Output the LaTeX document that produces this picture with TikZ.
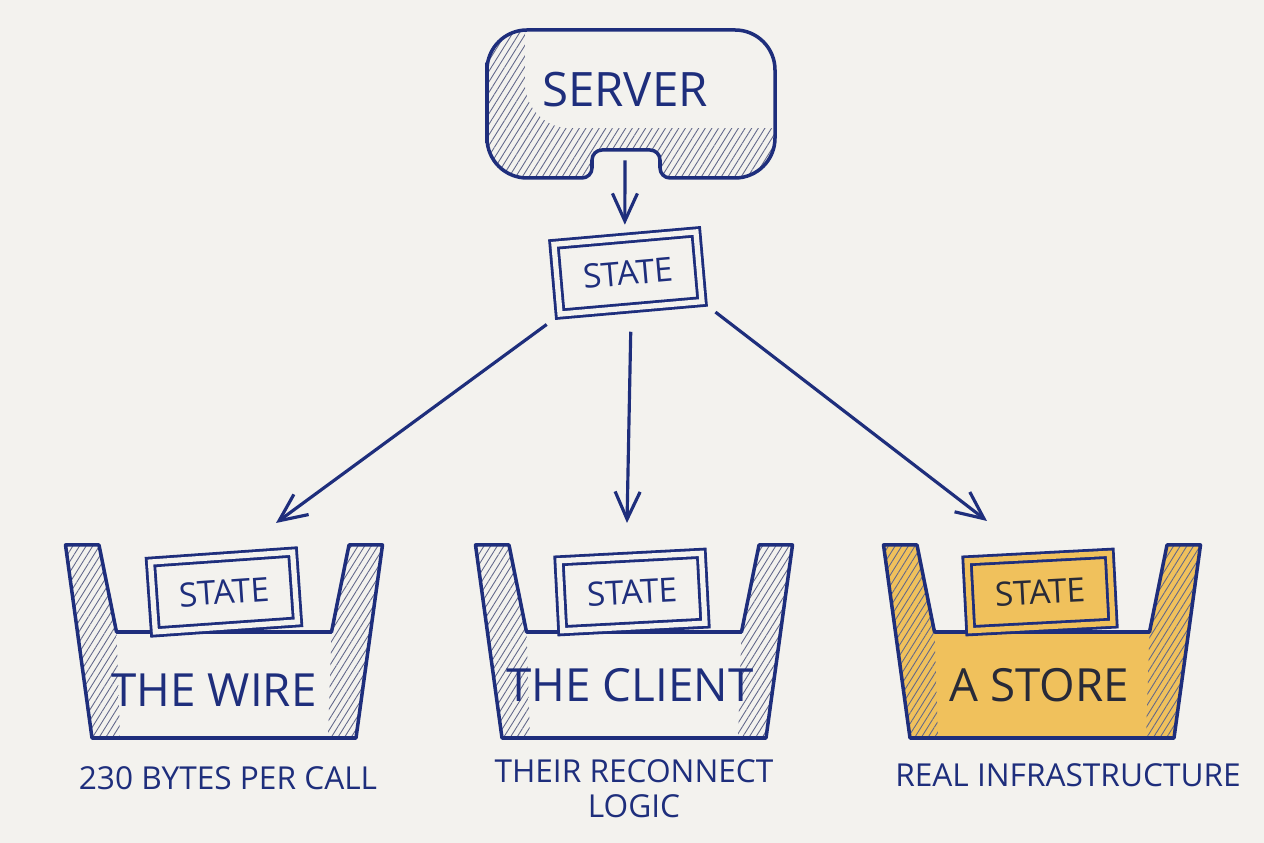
\documentclass[tikz,border=0pt]{standalone}
\usepackage{fontspec}
\setmainfont{Open Sans}
\usepackage{xcolor}
\usepackage{tikz}
\usetikzlibrary{arrows.meta,patterns.meta}
\definecolor{bleu}{RGB}{30,46,124}
\definecolor{fond}{RGB}{243,242,238}
\definecolor{jaune}{RGB}{240,193,92}
\definecolor{grish}{RGB}{98,104,138}
\definecolor{noir}{RGB}{40,42,56}
\newcommand{\serveur}{(9.74,14.8) [rounded corners=0.8cm] -- (9.74,16.26) -- (15.5,16.26) -- (15.5,13.3)
  [rounded corners=0.2cm] -- (13.2,13.3) -- (13.2,13.86) -- (11.84,13.86) -- (11.84,13.3)
  [rounded corners=0.8cm] -- (9.74,13.3) -- cycle}
\newcommand{\bac}[2]{%
  \fill[#2] ({#1-3.17},5.96) -- ({#1-2.64},2.1) -- ({#1+2.64},2.1) -- ({#1+3.17},5.96) -- ({#1+2.5},5.96)
    -- ({#1+2.15},4.22) -- ({#1-2.15},4.22) -- ({#1-2.5},5.96) -- cycle;
  \fill[mur] ({#1-3.17},5.96) -- ({#1-2.5},5.96) -- ({#1-2.15},4.22) -- ({#1-2.08},2.1) -- ({#1-2.64},2.1) -- cycle;
  \fill[mur] ({#1+3.17},5.96) -- ({#1+2.5},5.96) -- ({#1+2.15},4.22) -- ({#1+2.08},2.1) -- ({#1+2.64},2.1) -- cycle;
  \draw[trait] ({#1-3.17},5.96) -- ({#1-2.64},2.1) -- ({#1+2.64},2.1) -- ({#1+3.17},5.96) -- ({#1+2.5},5.96)
    -- ({#1+2.15},4.22) -- ({#1-2.15},4.22) -- ({#1-2.5},5.96) -- cycle;}

\begin{document}
\begin{tikzpicture}[x=1cm, y=1cm,
  st/.style={rectangle, draw=bleu, line width=1.6pt, double=#1, double distance=3pt, fill=#1,
             minimum width=2.85cm, minimum height=1.4cm, text=bleu, font=\fontsize{19}{19}\selectfont},
  st/.default=fond,
  fl/.style={-{Straight Barb[length=5.5mm, width=5mm]}, line width=1.8pt, draw=bleu},
  trait/.style={draw=bleu, line width=2pt, line join=round},
  mur/.style={pattern={Lines[angle=58, distance=3.2pt, line width=0.5pt]}, pattern color=grish},
  gros/.style={font=\fontsize{26}{26}\selectfont},
  lb/.style={text=bleu, align=center, font=\fontsize{18}{20}\selectfont}]

\fill[fond] (0,0) rectangle (25.28,16.86);
\useasboundingbox (0,0) rectangle (25.28,16.86);

% ── haut : le serveur ──
\begin{scope}
  \clip \serveur;
  \fill[mur] (9,13) rectangle (16,17);
  \fill[fond, rounded corners=0.9cm] (10.5,14.3) rectangle (16.5,17);
\end{scope}
\draw[trait] \serveur;
\node[text=bleu, font=\fontsize{27}{27}\selectfont, minimum width=5.76cm, minimum height=2.4cm] (server) at (12.5, 15.06) {SERVER};

\node[st, rotate=5] (st0) at (12.56, 11.4) {STATE};
\draw[fl, shorten <=0.2cm, shorten >=0.24cm] (server.south) -- (st0.north);

% ── les trois bacs ──
\bac{4.48}{fond}
\bac{12.68}{fond}
\bac{20.84}{jaune}

\node[st, rotate=4] (st1) at (4.48, 5.02) {STATE};
\node[st, rotate=3] (st2) at (12.64, 5.02) {STATE};
\node[st=jaune, rotate=3, text=noir] (st3) at (20.8, 5.02) {STATE};

\node[gros, text=bleu] (fil) at (4.28, 3.06) {THE WIRE};
\node[gros, text=bleu] (client) at (12.6, 3.16) {THE CLIENT};
\node[gros, text=noir] (store) at (20.78, 3.16) {A STORE};

\node[lb] (l1) at (4.56, 1.3) {230 BYTES PER CALL};
\node[lb] (l2) at (12.68, 1.08) {THEIR RECONNECT\\LOGIC};
\node[lb] (l3) at (21.36, 1.36) {REAL INFRASTRUCTURE};

% ── flèches ──
\coordinate (a1) at (5.52, 6.4);
\coordinate (a2) at (12.54, 6.4);
\coordinate (a3) at (19.74, 6.44);
\draw[fl, shorten <=0.3cm] (st0.south west) -- (a1);
\draw[fl, shorten <=0.45cm] (st0.south) -- (a2);
\draw[fl, shorten <=0.3cm] (st0.south east) -- (a3);

\end{tikzpicture}
\end{document}
